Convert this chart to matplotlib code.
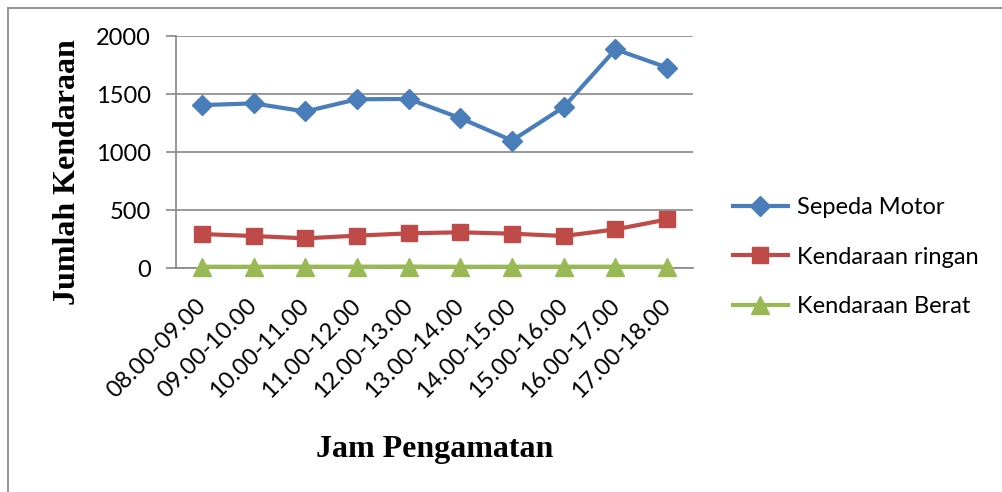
import matplotlib
matplotlib.use("Agg")
import matplotlib.pyplot as plt
import matplotlib.transforms as mtransforms
from matplotlib.lines import Line2D
import numpy as np

# data
jam = ["08.00-09.00", "09.00-10.00", "10.00-11.00", "11.00-12.00", "12.00-13.00",
       "13.00-14.00", "14.00-15.00", "15.00-16.00", "16.00-17.00", "17.00-18.00"]
sepeda_motor = [1405, 1420, 1350, 1455, 1458, 1293, 1100, 1388, 1885, 1728]
kendaraan_ringan = [295, 278, 258, 281, 301, 310, 298, 278, 335, 421]
kendaraan_berat = [14, 13, 14, 14, 15, 13, 14, 14, 14, 14]

BLUE = "#4A7EBB"
RED = "#BE4B48"
GREEN = "#98B954"
GRID = "#888888"

W, H = 1002, 492
fig = plt.figure(figsize=(W / 100, H / 100), dpi=100)
ax = fig.add_axes([176 / W, 1 - 268.3 / H, (693 - 176) / W, (268.3 - 36) / H])

x = np.arange(len(jam))
ax.plot(x, sepeda_motor, color=BLUE, lw=3, marker="D", ms=10, label="Sepeda Motor", clip_on=False, zorder=5)
ax.plot(x, kendaraan_ringan, color=RED, lw=3, marker="s", ms=12, label="Kendaraan ringan", clip_on=False, zorder=5)
ax.plot(x, kendaraan_berat, color=GREEN, lw=3, marker="^", ms=13, label="Kendaraan Berat", clip_on=False, zorder=6)

ax.set_xlim(-0.5, len(jam) - 0.5)
ax.set_ylim(0, 2000)
ax.set_yticks([0, 500, 1000, 1500, 2000])
ax.grid(axis="y", color=GRID, lw=1.2, zorder=0)
for s in ["top", "right"]:
    ax.spines[s].set_visible(False)
for s in ["left", "bottom"]:
    ax.spines[s].set_color(GRID)
    ax.spines[s].set_linewidth(1.2)
ax.tick_params(axis="y", length=7, color=GRID, width=1.2, labelsize=17, pad=11)
ax.tick_params(axis="x", length=0, labelsize=17, pad=19)
ax.set_xticks(x)
ax.set_xticklabels(jam, rotation=45, ha="right", rotation_mode="anchor")
shift = mtransforms.ScaledTranslation(-7 / 100, 0, fig.dpi_scale_trans)
for lbl in ax.get_xticklabels():
    lbl.set_transform(lbl.get_transform() + shift)
for lbl in ax.get_xticklabels() + ax.get_yticklabels():
    lbl.set_family("Lato")

fig.text(68 / W, 1 - 172 / H, "Jumlah Kendaraan", rotation=90, ha="center", va="center",
         family="Liberation Serif", weight="bold", fontsize=23)
fig.text(435 / W, 1 - 450 / H, "Jam Pengamatan", ha="center", va="center",
         family="Liberation Serif", weight="bold", fontsize=23)

leg = fig.legend(loc="upper left", bbox_to_anchor=(712 / W, 1 - 176 / H), frameon=False,
                 prop={"family": "Lato", "size": 17}, handlelength=2.3, labelspacing=1.2,
                 handletextpad=0.42)

# chart area border (only top and left visible)
fig.add_artist(Line2D([8 / W, 1.0], [1 - 8 / H] * 2, transform=fig.transFigure, color="#8C8C8C", lw=1.3))
fig.add_artist(Line2D([8 / W] * 2, [0, 1 - 8 / H], transform=fig.transFigure, color="#8C8C8C", lw=1.3))

fig.savefig("out.png", dpi=100, facecolor="white")
